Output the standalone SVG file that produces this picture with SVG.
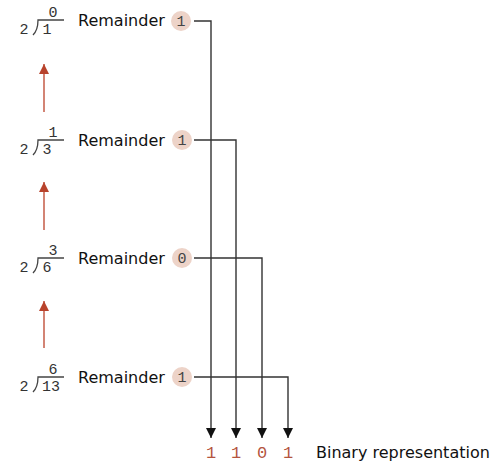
<svg xmlns="http://www.w3.org/2000/svg" width="496" height="464" viewBox="0 0 496 464">
  <style>
    .lbl { font-family: "DejaVu Sans", sans-serif; font-size: 16px; fill: #111; }
    .mono { font-family: "Liberation Mono", "DejaVu Sans Mono", monospace; font-size: 15px; fill: #333; text-anchor: middle; }
    .bit { font-family: "Liberation Mono", "DejaVu Sans Mono", monospace; font-size: 17px; fill: #b4553e; text-anchor: middle; }
    .rem { font-family: "Liberation Mono", "DejaVu Sans Mono", monospace; font-size: 15px; fill: #444; text-anchor: middle; }
    .dot { fill: #edd3c8; }
    .bracket { fill: none; stroke: #444; stroke-width: 1.3; }
    .wire { fill: none; stroke: #333; stroke-width: 1.4; }
    .up { stroke: #c0503a; stroke-width: 1.4; fill: none; }
  </style>
  <defs>
    <marker id="down" viewBox="0 0 10 10" refX="10" refY="5" markerWidth="10" markerHeight="10" markerUnits="userSpaceOnUse" orient="auto">
      <path d="M0,0 L10,5 L0,10 Z" fill="#111"/>
    </marker>
    <marker id="upHead" viewBox="0 0 10 10" refX="10" refY="5" markerWidth="10" markerHeight="10" markerUnits="userSpaceOnUse" orient="auto">
      <path d="M0,0 L10,5 L0,10 Z" fill="#b8432c"/>
    </marker>
  </defs>

  <!-- step 1: 1 / 2 -->
  <g id="step1">
    <text class="mono" x="53" y="17">0</text>
    <text class="mono" x="24" y="34">2</text>
    <path class="bracket" d="M33,35 Q38,30 38,20 L64,20"/>
    <text class="mono" x="47" y="34">1</text>
    <text class="lbl" x="78" y="26">Remainder</text>
    <circle class="dot" cx="181" cy="21" r="10"/>
    <text class="rem" x="181" y="26">1</text>
  </g>

  <!-- step 2: 3 / 2 -->
  <g id="step2">
    <text class="mono" x="53" y="137">1</text>
    <text class="mono" x="24" y="154">2</text>
    <path class="bracket" d="M33,155 Q38,150 38,140 L64,140"/>
    <text class="mono" x="47" y="154">3</text>
    <text class="lbl" x="78" y="146">Remainder</text>
    <circle class="dot" cx="182" cy="140" r="10"/>
    <text class="rem" x="182" y="145">1</text>
  </g>

  <!-- step 3: 6 / 2 -->
  <g id="step3">
    <text class="mono" x="53" y="255">3</text>
    <text class="mono" x="24" y="272">2</text>
    <path class="bracket" d="M33,273 Q38,268 38,258 L64,258"/>
    <text class="mono" x="47" y="272">6</text>
    <text class="lbl" x="78" y="264">Remainder</text>
    <circle class="dot" cx="182" cy="258" r="10"/>
    <text class="rem" x="182" y="263">0</text>
  </g>

  <!-- step 4: 13 / 2 -->
  <g id="step4">
    <text class="mono" x="53" y="374">6</text>
    <text class="mono" x="24" y="391">2</text>
    <path class="bracket" d="M33,392 Q38,387 38,377 L64,377"/>
    <text class="mono" x="51" y="391">13</text>
    <text class="lbl" x="78" y="383">Remainder</text>
    <circle class="dot" cx="182" cy="377" r="10"/>
    <text class="rem" x="182" y="382">1</text>
  </g>

  <!-- result bits and caption -->
  <g id="result">
    <text class="bit" x="211" y="458">1</text>
    <text class="bit" x="236" y="458">1</text>
    <text class="bit" x="262" y="458">0</text>
    <text class="bit" x="288" y="458">1</text>
    <text class="lbl" x="316" y="458">Binary representation</text>
  </g>

  <g id="connectors">
    <!-- upward steps between divisions -->
    <line class="up" x1="44" y1="112" x2="44" y2="64" marker-end="url(#upHead)"/>
    <line class="up" x1="44" y1="230" x2="44" y2="182" marker-end="url(#upHead)"/>
    <line class="up" x1="44" y1="348" x2="44" y2="301" marker-end="url(#upHead)"/>
    <!-- remainders routed down to their bit positions -->
    <path class="wire" d="M194,21 H211 V438" marker-end="url(#down)"/>
    <path class="wire" d="M194,140 H236 V438" marker-end="url(#down)"/>
    <path class="wire" d="M194,258 H262 V438" marker-end="url(#down)"/>
    <path class="wire" d="M194,377 H288 V438" marker-end="url(#down)"/>
  </g>
</svg>
